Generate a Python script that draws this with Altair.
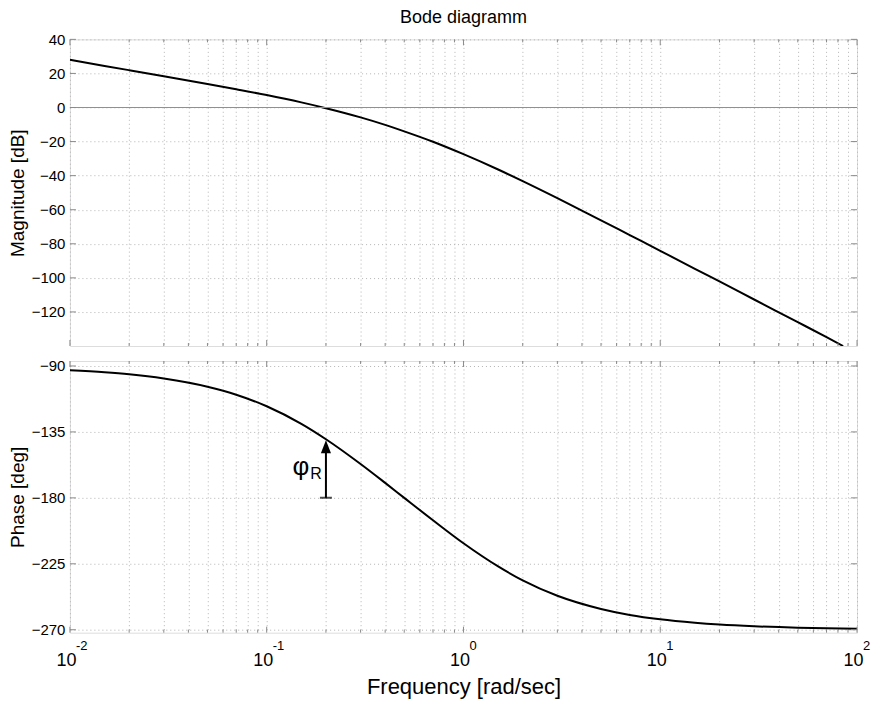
import altair as alt
import pandas as pd

# ---- data ----
freq = [0.01, 0.015, 0.02, 0.03, 0.05, 0.07, 0.1, 0.15, 0.2, 0.3, 0.4, 0.5, 0.7,
        1, 1.5, 2, 3, 5, 7, 10, 15, 20, 30, 50, 70, 100]
mag_freq = [0.01, 0.015, 0.02, 0.03, 0.05, 0.07, 0.1, 0.15, 0.2, 0.3, 0.4, 0.5, 0.7,
            1, 1.5, 2, 3, 5, 7, 10, 15, 20, 30, 50, 70, 85]
mag_db = [28.0, 24.4, 21.9, 18.4, 13.8, 10.7, 7.3, 3.0, -0.4, -5.8, -10.2, -14.0, -20.1,
          -27.4, -36.4, -43.2, -53.2, -66.2, -74.9, -84.1, -94.7, -102.1, -112.7, -126.0, -134.8, -140.0]
phase_deg = [-92.9, -94.3, -95.7, -98.6, -104.2, -109.6, -117.5, -129.5, -140.0, -156.9, -169.8, -180.0, -195.3,
             -211.0, -226.8, -236.3, -246.8, -255.8, -259.9, -262.9, -265.2, -266.4, -267.6, -268.6, -269.0, -269.3]

mag_ticks = [40, 20, 0, -20, -40, -60, -80, -100, -120]
phase_ticks = [-90, -135, -180, -225, -270]
decades = [0.01, 0.1, 1, 10, 100]
decade_exp = ["-2", "-1", "0", "1", "2"]
grid_freq = [k * 10.0 ** e for e in range(-2, 2) for k in range(1, 10)] + [100.0]
minor_freq = [f for f in grid_freq if f not in decades]

# annotation: phase margin arrow
pm_freq = [0.2]
pm_from = [-180]
pm_to = [-147]

W, H1, H2 = 788, 307, 272
FONT = "Liberation Sans, Arial, sans-serif"
NARROW = "Liberation Sans Narrow, Arial Narrow, Liberation Sans, sans-serif"
GRID = "#b4b4b4"
BORDER = "#8a8a8a"

mag_df = pd.DataFrame({"f": mag_freq, "mag": mag_db})
ph_df = pd.DataFrame({"f": freq, "phase": phase_deg})
df_major = pd.DataFrame({"f": decades, "e": decade_exp})
df_minor = pd.DataFrame({"f": minor_freq})
df_mag_t = pd.DataFrame({"v": mag_ticks})
df_ph_t = pd.DataFrame({"v": phase_ticks})
df_pm = pd.DataFrame({"f": pm_freq, "y1": pm_from, "y2": pm_to})

xscale = alt.Scale(type="log", domain=[0.01, 100], nice=False)


def xenc(show_labels):
    common = dict(values=grid_freq, grid=True, gridColor=GRID, gridDash=[1, 3], gridWidth=1,
                  ticks=False, domain=False)
    if show_labels:
        ax = alt.Axis(
            **common,
            labelExpr="abs(log(datum.value)/LN10 - round(log(datum.value)/LN10)) < 0.001 ? '10' : ''",
            labelOverlap=False, labelFlush=False, labelBound=False,
            labelFont=NARROW, labelFontSize=18, labelColor="black", labelPadding=19,
            labelOffset=-4,
            title="Frequency [rad/sec]",
            titleFont=NARROW, titleFontSize=22, titleFontWeight="normal", titleColor="black",
            titlePadding=7,
        )
    else:
        ax = alt.Axis(**common, labels=False, title=None, minExtent=0, maxExtent=0,
                      labelPadding=0, titlePadding=0)
    return alt.X("f:Q", scale=xscale, axis=ax)


def yenc(field, ticks, dom, title):
    return alt.Y(
        field, scale=alt.Scale(domain=dom, nice=False, zero=False),
        axis=alt.Axis(
            values=ticks, grid=True, gridColor=GRID, gridDash=[1, 3], gridWidth=1,
            ticks=False, domain=False, labelFont=FONT, labelFontSize=15, labelColor="black",
            labelPadding=5, minExtent=40, maxExtent=40,
            title=title, titleFont=FONT, titleFontSize=19, titleFontWeight="normal",
            titleColor="black", titlePadding=2,
        ),
    )


def frame_ticks(H, ydf, ydom, yticks, title, show_labels):
    ye = yenc("v:Q", yticks, ydom, title)
    maj = alt.Chart(df_major)
    mino = alt.Chart(df_minor)
    return [
        maj.mark_rule(color=BORDER).encode(x=xenc(show_labels), y=alt.value(H), y2=alt.value(H - 6)),
        maj.mark_rule(color=BORDER).encode(x=xenc(show_labels), y=alt.value(0), y2=alt.value(6)),
        mino.mark_rule(color=BORDER).encode(x=xenc(show_labels), y=alt.value(H), y2=alt.value(H - 3)),
        mino.mark_rule(color=BORDER).encode(x=xenc(show_labels), y=alt.value(0), y2=alt.value(3)),
        alt.Chart(ydf).mark_rule(color=BORDER).encode(y=ye, x=alt.value(0), x2=alt.value(6)),
        alt.Chart(ydf).mark_rule(color=BORDER).encode(y=ye, x=alt.value(W), x2=alt.value(W - 6)),
    ]


mag_dom = [-140, 40]
ph_dom = [-272, -86.6]

mag_y = lambda f: yenc(f, mag_ticks, mag_dom, "Magnitude [dB]")
mag_line = alt.Chart(mag_df).mark_line(color="black", strokeWidth=2, clip=True, interpolate="monotone").encode(
    x=xenc(False), y=mag_y("mag:Q"))
zero_line = alt.Chart(pd.DataFrame({"v": [0]})).mark_rule(color="#909090", strokeWidth=1).encode(
    y=mag_y("v:Q"))

top = alt.layer(
    mag_line, zero_line,
    *frame_ticks(H1, df_mag_t, mag_dom, mag_ticks, "Magnitude [dB]", False),
).properties(
    width=W, height=H1,
    title=alt.TitleParams("Bode diagramm", font=FONT, fontSize=18, fontWeight="normal",
                          color="black", anchor="middle", frame="group", offset=5),
)

ph_y = lambda f: yenc(f, phase_ticks, ph_dom, "Phase [deg]")
ph_line = alt.Chart(ph_df).mark_line(color="black", strokeWidth=2, clip=True, interpolate="monotone").encode(
    x=xenc(True), y=ph_y("phase:Q"))

arrow_shaft = alt.Chart(df_pm).mark_rule(color="black", strokeWidth=2).encode(
    x=xenc(True), y=ph_y("y1:Q"), y2="y2:Q")
arrow_head = alt.Chart(df_pm).mark_point(
    shape="M0,-1L0.55,0.4L-0.55,0.4Z", size=340, filled=True, color="black", opacity=1, strokeWidth=0
).encode(x=xenc(True), y=ph_y("y2:Q"))
arrow_cap = alt.Chart(df_pm).mark_tick(orient="horizontal", size=12, thickness=2, color="black").encode(
    x=xenc(True), y=ph_y("y1:Q"))
phi = alt.Chart(df_pm).mark_text(text="φ", font=FONT, fontSize=26, color="black", dx=-25, dy=-1,
                                 align="center", baseline="middle").encode(
    x=xenc(True), y=alt.value(107))
phi_r = alt.Chart(df_pm).mark_text(text="R", font=FONT, fontSize=16, color="black", dx=-10,
                                   align="center", baseline="middle").encode(
    x=xenc(True), y=alt.value(113))
exps = alt.Chart(df_major).mark_text(font=NARROW, fontSize=13, color="black", dx=6,
                                     align="left", baseline="middle").encode(
    x=xenc(True), y=alt.value(H2 + 13), text="e:N")

bottom = alt.layer(
    ph_line,
    *frame_ticks(H2, df_ph_t, ph_dom, phase_ticks, "Phase [deg]", True),
    arrow_shaft, arrow_head, arrow_cap, phi, phi_r, exps,
).properties(width=W, height=H2)

chart = alt.vconcat(top, bottom, spacing=11).properties(
    padding={"left": 0, "top": 0, "right": 0, "bottom": 0}
).configure_view(stroke=BORDER, strokeWidth=1).configure(background="white")

chart.save("out.html", embed_options={"renderer": "svg", "actions": False})
